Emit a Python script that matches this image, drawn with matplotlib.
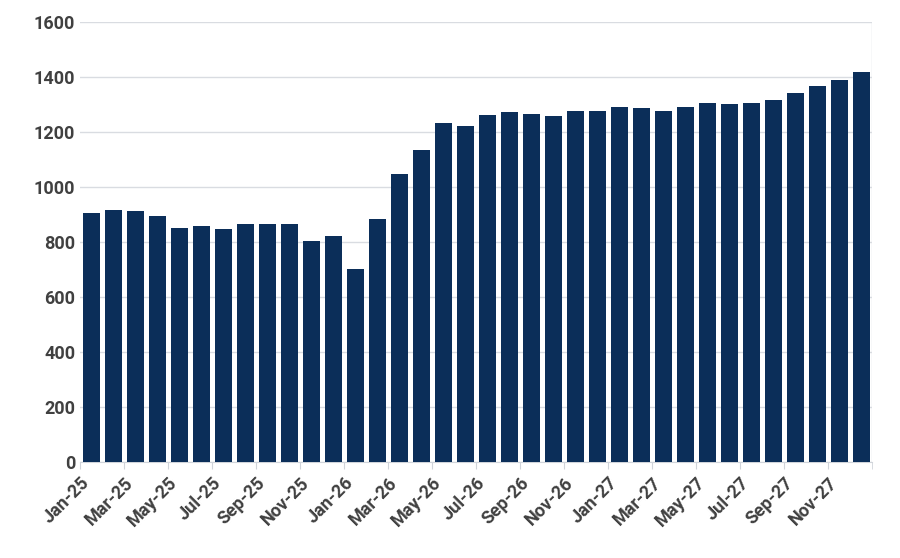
import matplotlib.pyplot as plt
import numpy as np

months = [f'{m}-{y}' for y in ['25', '26', '27'] for m in
          ['Jan', 'Feb', 'Mar', 'Apr', 'May', 'Jun', 'Jul', 'Aug', 'Sep', 'Oct', 'Nov', 'Dec']]
values = [905, 915, 912, 893, 850, 857, 847, 865, 865, 865, 803, 823,
          700, 882, 1045, 1133, 1232, 1220, 1262, 1272, 1265, 1258, 1275, 1275,
          1290, 1287, 1275, 1290, 1305, 1300, 1305, 1315, 1340, 1365, 1390, 1418]

plt.rcParams['font.family'] = ['Roboto', 'DejaVu Sans']
fig, ax = plt.subplots(figsize=(9, 5.58), dpi=100)
fig.subplots_adjust(left=0.089, right=0.969, top=0.961, bottom=0.172)

x = np.arange(len(values))
ax.bar(x, values, width=0.77, color='#0b2e59', zorder=3)

ticks = np.arange(-0.5, len(values) - 1, 2)
ax.set_xticks(ticks)
ax.set_xticklabels(months[::2], rotation=45, ha='right', rotation_mode='anchor',
                   fontsize=13, fontweight='bold', color='#404040')
ax.set_xticks(np.append(ticks, len(values) - 0.5), minor=True)
ax.set_xlim(-0.5, len(values) - 0.5)
ax.set_ylim(0, 1600)
ax.set_yticks(range(0, 1601, 200))
ax.tick_params(axis='y', labelsize=13, colors='#404040', length=0)
for t in ax.get_yticklabels():
    t.set_fontweight('bold')
ax.tick_params(axis='x', which='both', length=5, color='#d0d4da')
ax.grid(True, which='minor', axis='x', color='#d9dce1', lw=1, zorder=0)
ax.grid(True, which='major', axis='y', color='#d9dce1', lw=1, zorder=0)
for s in ['top', 'right', 'left']:
    ax.spines[s].set_visible(False)
ax.spines['bottom'].set_color('#d0d4da')

plt.savefig('out.png', dpi=100)
